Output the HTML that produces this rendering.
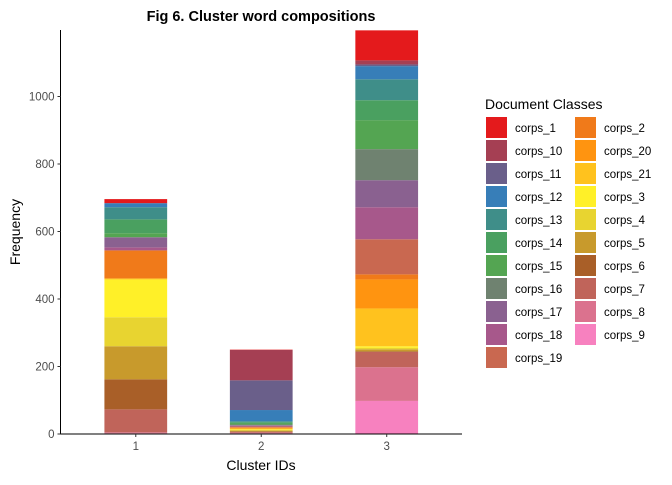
<!DOCTYPE html>
<html><head><meta charset="utf-8"><style>
body{margin:0;background:#fff;font-family:"Liberation Sans",Arial,sans-serif}
</style></head><body>
<svg id="chart" width="672" height="480" xmlns="http://www.w3.org/2000/svg" font-family="Liberation Sans, Arial, sans-serif">
<text x="261" y="21" text-anchor="middle" font-size="14.5" font-weight="bold">Fig 6. Cluster word compositions</text>
<g id="bars"></g>
<g id="axes"></g>
<text transform="translate(20,232) rotate(-90)" text-anchor="middle" font-size="14">Frequency</text>
<text x="261" y="470" text-anchor="middle" font-size="14">Cluster IDs</text>
<g id="legend">
<text x="485" y="109" font-size="14">Document Classes</text>
</g>
</svg>
<script>
const classes=["corps_1","corps_10","corps_11","corps_12","corps_13","corps_14","corps_15","corps_16","corps_17","corps_18","corps_19","corps_2","corps_20","corps_21","corps_3","corps_4","corps_5","corps_6","corps_7","corps_8","corps_9"];
const colors=["#E41A1C","#A53F53","#6A5F8A","#377EB8","#3F8E89","#4AA060","#54A552","#6F8270","#8A6190","#A7588B","#C96850","#F07A1A","#FF9410","#FFC21E","#FFF028","#E8D430","#C89A2C","#A95F28","#C0645A","#DB728E","#F781BF"];
const clusters=["1","2","3"];
const cluster1=[12,0,0,12,36,41,12,0,30,9,0,83,0,3,112,86,98,89,68,3,2];
const cluster2=[1,90,88,33,3,4,3,2,2,2,2,2,2,2,2,2,2,2,2,2,2];
const cluster3=[89,12,5,39,62,59,86,92,80,95,104,15,86,112,5,4,6,2,45,100,98];
const yTicks=[0,200,400,600,800,1000];
const series=[cluster1,cluster2,cluster3];
const NS="http://www.w3.org/2000/svg";
const x0=60.5,x1=462,y0=434,yPer=0.3375;
const band=(x1-x0)/3.2;
const xs=i=>x0+(i+0.6)*band;
const ys=v=>y0-v*yPer;
const bw=band*0.5;
function mk(t,a,p){const e=document.createElementNS(NS,t);for(const k in a)e.setAttribute(k,a[k]);p.appendChild(e);return e;}
const bars=document.getElementById('bars');
series.forEach((vals,ci)=>{
  let cum=0;
  for(let k=vals.length-1;k>=0;k--){
    const v=vals[k];const yb=ys(cum),yt=ys(cum+v);cum+=v;
    if(v<=0)continue;
    const r=mk('rect',{x:xs(ci)-bw/2,y:yt,width:bw,height:yb-yt,fill:colors[k]},bars);
    
    
  }
});
const ax=document.getElementById('axes');
const yl=mk('line',{x1:x0,y1:30,x2:x0,y2:y0,stroke:'#000','stroke-width':1},ax);


const xl=mk('line',{x1:x0,y1:y0,x2:x1,y2:y0,stroke:'#000','stroke-width':1},ax);


yTicks.forEach(t=>{
  const y=ys(t);
  const l=mk('line',{x1:x0-3,y1:y,x2:x0,y2:y,stroke:'#333'},ax);
  
  
  const tx=mk('text',{x:x0-6,y:y+4,'text-anchor':'end','font-size':11.5,fill:'#4d4d4d'},ax);
  tx.textContent=t;
  
  
});
clusters.forEach((c,i)=>{
  const x=xs(i);
  const l=mk('line',{x1:x,y1:y0,x2:x,y2:y0+3,stroke:'#333'},ax);
  
  
  const tx=mk('text',{x:x,y:y0+16,'text-anchor':'middle','font-size':11.5,fill:'#4d4d4d'},ax);
  tx.textContent=c;
  
  
});
const lg=document.getElementById('legend');
classes.forEach((c,i)=>{
  const col=i<11?0:1,row=i<11?i:i-11;
  const kx=col?575:486,ky=117+row*23;
  const r=mk('rect',{x:kx,y:ky,width:21,height:21,fill:colors[i]},lg);
  
  
  const t=mk('text',{x:kx+29,y:ky+15,'font-size':11.5,fill:'#000'},lg);
  t.textContent=c;
  
  
});
</script>
</body></html>
